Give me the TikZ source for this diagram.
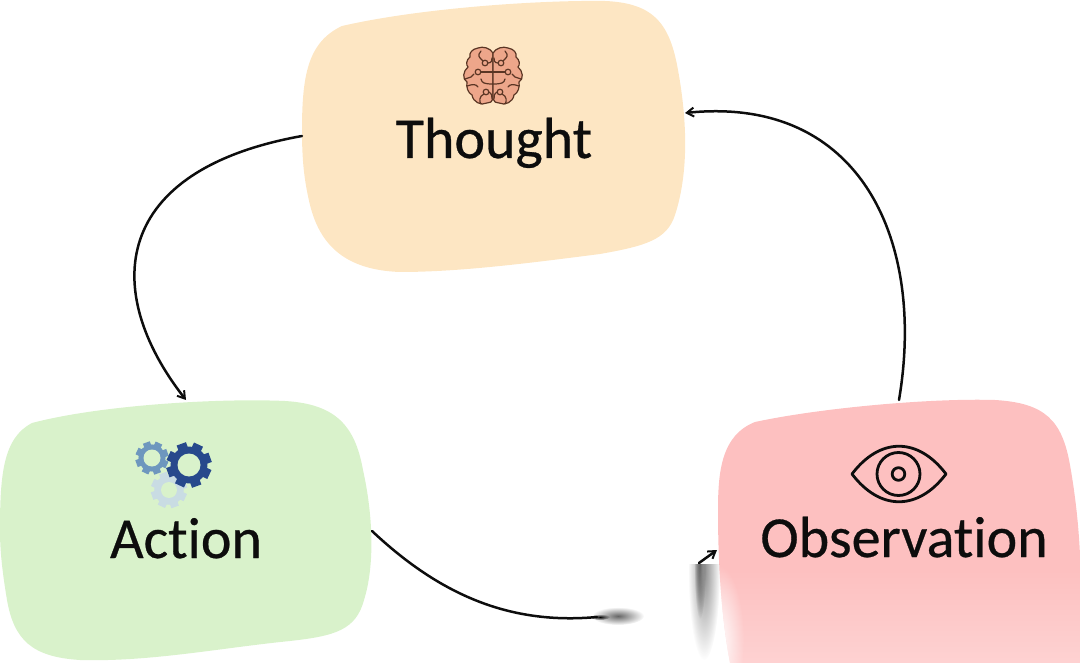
\documentclass[tikz,border=0pt]{standalone}
\usepackage{fontspec}
\setmainfont{Carlito}[Ligatures=NoCommon,FakeBold=0.5]
\usetikzlibrary{arrows.meta,fadings}
\tikzfading[name=softball,inner color=transparent!0,outer color=transparent!100]
\definecolor{thoughtc}{HTML}{FDE6C3}
\definecolor{actionc}{HTML}{D9F2CB}
\definecolor{obsc}{HTML}{FDC0C0}
\definecolor{brainc}{HTML}{EDA68A}
\definecolor{brainl}{HTML}{5A3524}
\definecolor{gearA}{HTML}{6E97BE}
\definecolor{gearB}{HTML}{27498C}
\definecolor{gearC}{HTML}{C9DCE3}
\tikzset{
  slot/.style={minimum width=#1,inner sep=0pt,outer sep=0pt},
  lab/.style={anchor=base,text=black!95,font=\fontsize{58}{60}\selectfont,inner sep=0pt},
  conn/.style={line width=2.5pt,black!95,line cap=round},
  tip/.style={-{Straight Barb[length=7pt,width=9pt,line width=2pt]}},
  wire/.style={draw=brainl,line width=1.2pt,line cap=round},
  eyeline/.style={draw=black!95,line width=2.8pt}
}
\newcommand{\gearicon}[5]{% x,y,outer,hole,colour
  \begin{scope}[shift={(#1,#2)}]
    \foreach \a in {0,45,...,315}
      \fill[#5,rotate=\a+20] (-#3*0.22,0) rectangle (#3*0.22,#3);
    \fill[#5] (0,0) circle[radius=#3*0.82];
  \end{scope}}
\begin{document}
\begin{tikzpicture}[x=1pt,y=-1pt]
\useasboundingbox (0,0) rectangle (1080,663);
% blobs
\fill[thoughtc] (302,130) .. controls (302,75) and (308,42) .. (342,26)
  .. controls (420,8) and (540,0) .. (605,1)
  .. controls (655,3) and (670,25) .. (678,70)
  .. controls (688,125) and (688,175) .. (675,215)
  .. controls (667,240) and (645,246) .. (600,254)
  .. controls (530,263) and (460,272) .. (400,272)
  .. controls (345,270) and (320,245) .. (310,205)
  .. controls (304,180) and (302,160) .. (302,130) -- cycle;
\fill[actionc] (0,530) .. controls (0,475) and (3,438) .. (32,423)
  .. controls (100,405) and (220,398) .. (285,401)
  .. controls (335,404) and (355,425) .. (363,470)
  .. controls (373,515) and (375,565) .. (364,600)
  .. controls (356,630) and (335,636) .. (290,641)
  .. controls (220,648) and (150,662) .. (80,660)
  .. controls (32,657) and (14,640) .. (7,600)
  .. controls (2,570) and (0,550) .. (0,530) -- cycle;
\begin{scope}
\clip (718,510) .. controls (718,470) and (722,435) .. (755,422)
  .. controls (820,408) and (930,398) .. (995,400)
  .. controls (1045,403) and (1062,420) .. (1070,465)
  .. controls (1078,510) and (1082,560) .. (1080,600)
  -- (1080,663) -- (730,663) .. controls (722,620) and (718,570) .. (718,510) -- cycle;
\fill[obsc] (700,390) rectangle (1080,570.5);
\shade[top color=obsc,bottom color=obsc!72!white,shading angle=0] (700,570) rectangle (1080,663);
\fill[white,path fading=softball] (718,640) ellipse[x radius=26,y radius=75];
\end{scope}
% invisible anchors for connectors
\node[slot=383pt,minimum height=272pt] (thought) at (493.5,136) {};
\node[slot=372pt,minimum height=262pt] (action) at (186,531) {};
\node[slot=362pt,minimum height=263pt] (obs) at (899,531.5) {};
\coordinate (thoughtin) at (685,113);
\coordinate (obsin) at (717,550);
\coordinate (gapa) at (597,617);
\coordinate (gapb) at (699,563);
% labels
\node[lab] (tl) at (494,158) {Thought};
\node[lab] (al) at (186,558) {Action};
\node[lab] (ol) at (904,557) {Observation};
% connectors
\draw[conn,tip] (thought.west) .. controls (112,170) and (100,290) .. (action.north);
\draw[conn,tip] (obs.north) .. controls (926,240) and (860,95) .. (thoughtin);
\draw[conn] (action.east) .. controls (440,595) and (510,625) .. (gapa);
\draw[conn,tip] (gapb) -- (obsin);
% torn smudges
\fill[black!60,path fading=softball] (618,616) ellipse[x radius=26,y radius=9];
\fill[black,path fading=softball] (600,617) ellipse[x radius=10,y radius=3];
\begin{scope}
\clip (680,564) rectangle (730,663);
\fill[black,path fading=softball] (700,564) ellipse[x radius=6,y radius=55];
\fill[black!45,path fading=softball] (704,570) ellipse[x radius=16,y radius=90];
\end{scope}
% brain
\begin{scope}[shift={(493,76)}]
 \foreach \s in {1,-1}{
  \begin{scope}[xscale=\s]
   \filldraw[fill=brainc,wire] (0,-23) .. controls (-3,-28) and (-10,-30) .. (-15,-28)
     .. controls (-21,-27) and (-24,-23) .. (-23,-19)
     .. controls (-27,-16) and (-27,-11) .. (-25,-9)
     .. controls (-30,-5) and (-31,3) .. (-26,6)
     .. controls (-27,11) and (-25,17) .. (-21,19)
     .. controls (-20,26) and (-12,30) .. (-6,27)
     .. controls (-3,27) and (-1,26) .. (0,23) -- cycle;
   \draw[wire] (-8,-13) circle[radius=2.8];
   \draw[wire] (-15,-4) circle[radius=2.8];
   \draw[wire] (-7,16) circle[radius=2.8];
   \draw[wire] (-5,-13) .. controls (-1,-13) and (-1,-16) .. (-1,-18);
   \draw[wire] (-10,-15) .. controls (-14,-19) and (-16,-20) .. (-12,-25);
   \draw[wire] (-12,-4) -- (0,-4);
   \draw[wire] (-12,3) .. controls (-11,7) and (-9,8) .. (0,8);
   \draw[wire] (-28,3) -- (-22,1) -- (-19,-2);
   \draw[wire] (-26,10) .. controls (-20,8) and (-17,8) .. (-15,11);
   \draw[wire] (-9,18) .. controls (-14,20) and (-14,26) .. (-12,28);
   \draw[wire] (-4,16) .. controls (-1,18) and (-1,20) .. (-1,23);
  \end{scope}}
\end{scope}
% gears
\gearicon{169}{490}{18}{8}{gearC}
\fill[actionc] (169,490) circle[radius=8];
\gearicon{152}{458}{16.5}{8}{gearA}
\fill[actionc] (152,458) circle[radius=8.5];
\gearicon{189}{465}{22.5}{11}{gearB}
\fill[actionc] (189,465) circle[radius=11.5];
% eye
\draw[eyeline,line join=round] (852,474) .. controls (880,437) and (918,437) .. (946,474)
   .. controls (918,511) and (880,511) .. (852,474) -- cycle;
\draw[eyeline] (898.5,474) circle[radius=21.5];
\draw[eyeline] (898.5,474) circle[radius=6.3];
\end{tikzpicture}
\end{document}
